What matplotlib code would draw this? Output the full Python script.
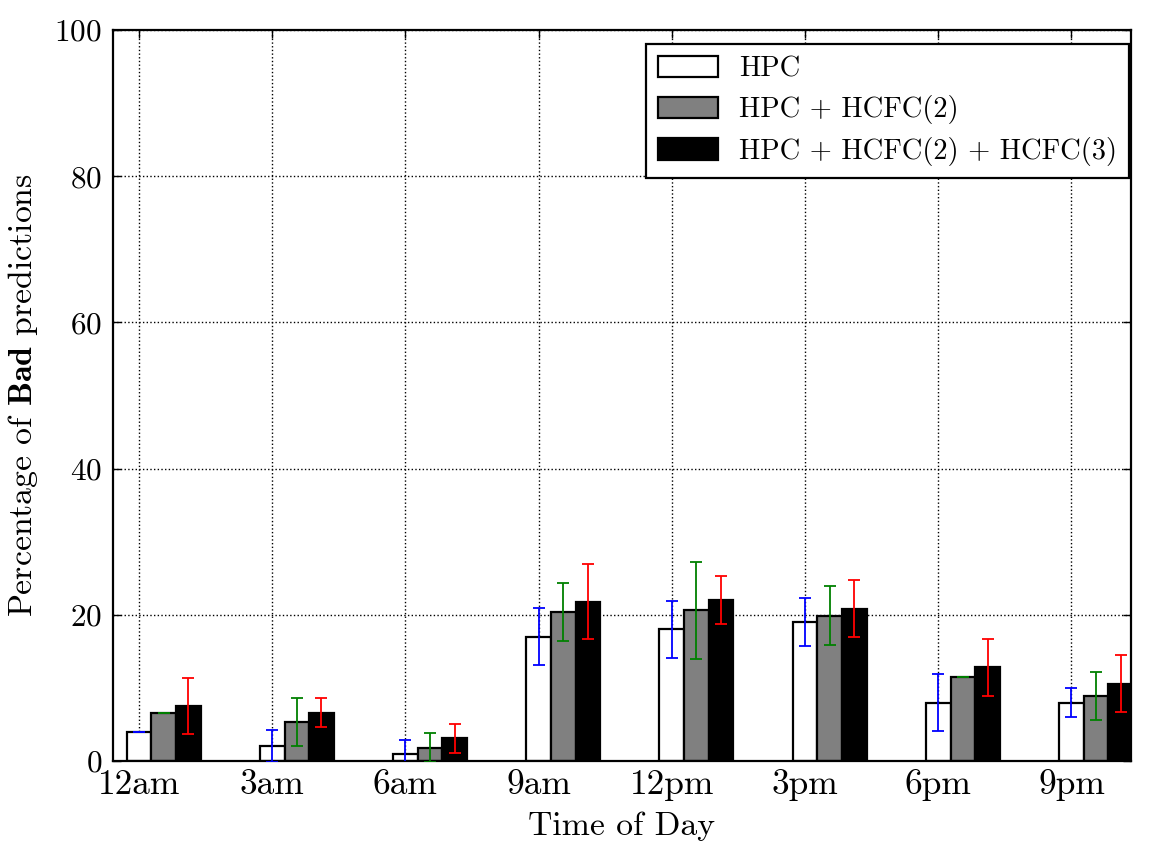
import matplotlib
matplotlib.use("Agg")
import matplotlib.pyplot as plt
import numpy as np

categories = ["12am", "3am", "6am", "9am", "12pm", "3pm", "6pm", "9pm"]
series_names = ["HPC", "HPC + HCFC(2)", "HPC + HCFC(2) + HCFC(3)"]
hpc = [4.0, 2.0, 1.0, 17.0, 18.0, 19.0, 8.0, 8.0]
hpc_err = [0.0, 2.2, 1.9, 3.9, 3.9, 3.3, 3.9, 2.0]
hcfc2 = [6.5, 5.3, 1.8, 20.4, 20.6, 19.9, 11.5, 8.9]
hcfc2_err = [0.0, 3.3, 2.0, 4.0, 6.6, 4.0, 0.0, 3.3]
hcfc3 = [7.5, 6.6, 3.1, 21.8, 22.0, 20.8, 12.8, 10.6]
hcfc3_err = [3.8, 2.0, 2.0, 5.1, 3.3, 3.9, 3.9, 3.9]

fills = ["white", "#808080", "black"]
err_colors = ["b", "g", "r"]

plt.rcParams["font.family"] = ["cmr10", "DejaVu Serif"]
plt.rcParams["mathtext.fontset"] = "cm"
plt.rcParams["axes.formatter.use_mathtext"] = True
plt.rcParams["font.size"] = 23

fig = plt.figure(figsize=(11.59, 8.59), dpi=100)
ax = fig.add_axes([113/1159, 1 - 761/859, (1131-113)/1159, (761-30)/859])

x = np.arange(len(categories))
w = 0.185
vals = [hpc, hcfc2, hcfc3]
errs = [hpc_err, hcfc2_err, hcfc3_err]
for i in range(3):
    ax.bar(x + i * w, vals[i], w, color=fills[i], edgecolor="black",
           linewidth=1.6, label=series_names[i], zorder=2)
    ax.errorbar(x + i * w, vals[i], yerr=errs[i], fmt="none",
                ecolor=err_colors[i], elinewidth=1.3, capsize=4.5,
                capthick=1.3, zorder=3)

ax.set_xlim(-0.195, 7.447)
ax.set_ylim(0, 100)
ax.set_xticks(x)
ax.set_xticklabels(categories, fontsize=25.5)
ax.set_yticks([0, 20, 40, 60, 80, 100])
ax.tick_params(axis="y", labelsize=22.5)
ax.grid(True, color="black", linestyle=":", linewidth=1.0, zorder=0)
ax.set_axisbelow(True)
ax.tick_params(direction="in", top=True, right=True, length=5.5, width=1.0)
ax.tick_params(axis="x", pad=6)
ax.tick_params(axis="y", pad=8)
for s in ax.spines.values():
    s.set_linewidth(1.6)

ax.set_xlabel("Time of Day", fontsize=24.3, labelpad=7)
ax.set_ylabel(r"Percentage of $\mathbf{Bad}$ predictions", fontsize=24.3,
              labelpad=10)

leg = ax.legend(loc="upper right", bbox_to_anchor=(0.998, 0.981),
                borderaxespad=0, fancybox=False, framealpha=1,
                edgecolor="black", fontsize=20.5, handlelength=2.1,
                handleheight=0.76, handletextpad=0.75, labelspacing=0.45,
                borderpad=0.42)
leg.get_frame().set_linewidth(1.6)

fig.savefig("out.png", dpi=100)
